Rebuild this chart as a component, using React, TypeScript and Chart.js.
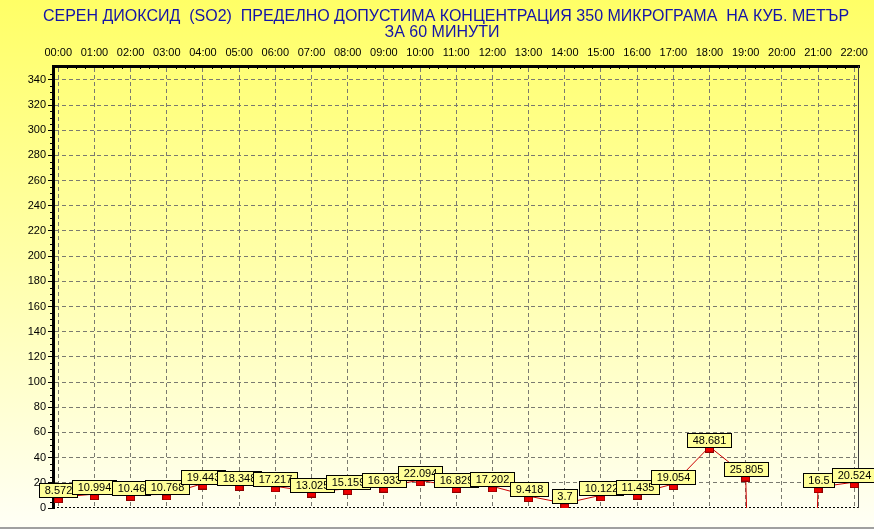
import React, { useEffect, useRef } from 'react';
import { Chart, registerables } from 'chart.js';

Chart.register(...registerables);

const TITLE_LINE_1 = 'СЕРЕН ДИОКСИД  (SO2)  ПРЕДЕЛНО ДОПУСТИМА КОНЦЕНТРАЦИЯ 350 МИКРОГРАМА  НА КУБ. МЕТЪР';
const TITLE_LINE_2 = 'ЗА 60 МИНУТИ';

const HOURS = [0, 1, 2, 3, 4, 5, 6, 7, 8, 9, 10, 11, 12, 13, 14, 15, 16, 17, 18, 19, 20, 21, 22];
const HOUR_LABELS = [
  '00:00', '01:00', '02:00', '03:00', '04:00', '05:00', '06:00', '07:00', '08:00', '09:00', '10:00', '11:00',
  '12:00', '13:00', '14:00', '15:00', '16:00', '17:00', '18:00', '19:00', '20:00', '21:00', '22:00',
];
// missing measurement marker (line drops off the chart at 20:00)
const MISSING = -999;
const SO2_VALUES = [
  8.572, 10.994, 10.46, 10.768, 19.443, 18.348, 17.217, 13.025, 15.159, 16.933, 22.094, 16.829,
  17.202, 9.418, 3.7, 10.122, 11.435, 19.054, 48.681, 25.805, MISSING, 16.5, 20.524,
];

const Y_MIN = 0;
const Y_MAX = 351;
const Y_STEP = 20;
const X_MIN = -0.145;
const X_MAX = 22.137;

const FONT = '"Liberation Sans", Arial, sans-serif';

export default function App() {
  const ref = useRef<HTMLCanvasElement>(null);

  useEffect(() => {
    document.body.style.margin = '0';
    const canvas = ref.current!;

    const marker = document.createElement('canvas');
    marker.width = 9;
    marker.height = 12;
    const m = marker.getContext('2d')!;
    m.fillStyle = '#8B0000';
    m.fillRect(0, 6, 9, 6);
    m.fillStyle = '#F00000';
    m.fillRect(1, 7, 7, 4);

    const bgPlugin = {
      id: 'bg',
      beforeDraw(chart: any) {
        const ctx = chart.ctx;
        const { width, height } = chart;
        ctx.save();
        const g = ctx.createLinearGradient(0, 0, 0, height);
        g.addColorStop(0, '#FFFF66');
        g.addColorStop(0.5, '#FFFFAA');
        g.addColorStop(1, '#FFFFF6');
        ctx.fillStyle = g;
        ctx.fillRect(0, 0, width, height);
        ctx.fillStyle = '#A0A0A0';
        ctx.fillRect(0, height - 2, width, 2);
        ctx.fillStyle = '#1414A8';
        ctx.font = '16px ' + FONT;
        ctx.textAlign = 'center';
        ctx.textBaseline = 'middle';
        ctx.fillText(TITLE_LINE_1, 446, 17);
        ctx.fillText(TITLE_LINE_2, 442, 33);
        ctx.restore();
      },
      beforeDatasetsDraw(chart: any) {
        const ctx = chart.ctx;
        const { left, right, top, bottom } = chart.chartArea;
        const xs = chart.scales.x;
        const ys = chart.scales.y;
        ctx.save();
        ctx.strokeStyle = '#000000';
        ctx.lineWidth = 1;
        ctx.setLineDash([2, 2]);
        ctx.beginPath();
        ctx.moveTo(left, Math.round(bottom) - 0.5);
        ctx.lineTo(right, Math.round(bottom) - 0.5);
        ctx.stroke();
        ctx.setLineDash([]);
        ctx.strokeStyle = '#404040';
        ctx.beginPath();
        ctx.moveTo(Math.round(right) - 0.5, top);
        ctx.lineTo(Math.round(right) - 0.5, bottom);
        ctx.stroke();
        ctx.strokeStyle = '#000000';
        for (let h = 0; h < 22; h++) {
          for (let q = 1; q < 4; q++) {
            const px = Math.round(xs.getPixelForValue(h + q / 4)) + 0.5;
            ctx.beginPath();
            ctx.moveTo(px, top);
            ctx.lineTo(px, top + 3);
            ctx.stroke();
          }
        }
        for (let v = 5; v < 350; v += 5) {
          if (v % 20 === 0) continue;
          const py = Math.round(ys.getPixelForValue(v)) + 0.5;
          ctx.beginPath();
          ctx.moveTo(left - 3, py);
          ctx.lineTo(left, py);
          ctx.stroke();
        }
        ctx.restore();
      },
      afterDatasetsDraw(chart: any) {
        const ctx = chart.ctx;
        const meta = chart.getDatasetMeta(0);
        ctx.save();
        ctx.font = '11px ' + FONT;
        ctx.textAlign = 'center';
        ctx.textBaseline = 'middle';
        SO2_VALUES.forEach((v, i) => {
          if (v < 0) return;
          const el = meta.data[i];
          const text = String(v);
          const w = Math.round(ctx.measureText(text).width) + 10;
          const h = 14;
          const x0 = Math.round(el.x - w / 2) + 0.5;
          const y0 = Math.round(el.y) - h + 0.5;
          ctx.fillStyle = '#FFFF99';
          ctx.fillRect(x0, y0, w, h);
          ctx.strokeStyle = '#000000';
          ctx.lineWidth = 1;
          ctx.strokeRect(x0, y0, w, h);
          ctx.fillStyle = '#000000';
          ctx.fillText(text, x0 + w / 2, y0 + h / 2 + 0.5);
        });
        ctx.restore();
      },
    };

    const chart = new Chart(canvas, {
      type: 'line',
      data: {
        datasets: [
          {
            data: HOURS.map((h, i) => ({ x: h, y: SO2_VALUES[i] })),
            borderColor: '#CC0000',
            borderWidth: 1,
            tension: 0,
            pointStyle: marker as any,
            pointRadius: 5,
            pointHoverRadius: 5,
            fill: false,
          },
        ],
      },
      plugins: [bgPlugin],
      options: {
        animation: false,
        responsive: false,
        maintainAspectRatio: false,
        events: [],
        layout: { padding: { left: 0, top: 0, right: 8, bottom: 21 } },
        plugins: { legend: { display: false }, tooltip: { enabled: false }, title: { display: false } },
        scales: {
          x: {
            type: 'linear',
            position: 'top',
            min: X_MIN,
            max: X_MAX,
            afterFit: (s: any) => {
              s.height = 66;
            },
            ticks: {
              stepSize: 1,
              includeBounds: false,
              autoSkip: false,
              maxRotation: 0,
              padding: 6,
              color: '#000000',
              font: { family: FONT, size: 11 },
              callback: (v: any) => HOUR_LABELS[Number(v)] ?? '',
            },
            grid: {
              color: '#7A7A70',
              lineWidth: 1,
              drawTicks: false,
            },
            border: { display: true, color: '#000000', width: 3, dash: [4, 3] },
          },
          y: {
            type: 'linear',
            min: Y_MIN,
            max: Y_MAX,
            afterFit: (s: any) => {
              s.width = 53;
            },
            ticks: {
              stepSize: Y_STEP,
              includeBounds: false,
              padding: 2,
              color: '#000000',
              font: { family: FONT, size: 11 },
            },
            grid: {
              color: (c: any) => (c.tick && c.tick.value === 0 ? 'rgba(0,0,0,0)' : '#7A7A70'),
              lineWidth: 1,
              drawTicks: true,
              tickLength: 5,
              tickColor: '#000000',
              tickBorderDash: [],
            },
            border: { display: true, color: '#000000', width: 3, dash: [4, 3] },
          },
        },
      } as any,
    });
    return () => chart.destroy();
  }, []);

  return (
    <div style={{ position: 'absolute', left: 0, top: 0, width: 874, height: 529 }}>
      <canvas ref={ref} width={874} height={529} style={{ display: 'block', width: 874, height: 529 }} />
    </div>
  );
}
